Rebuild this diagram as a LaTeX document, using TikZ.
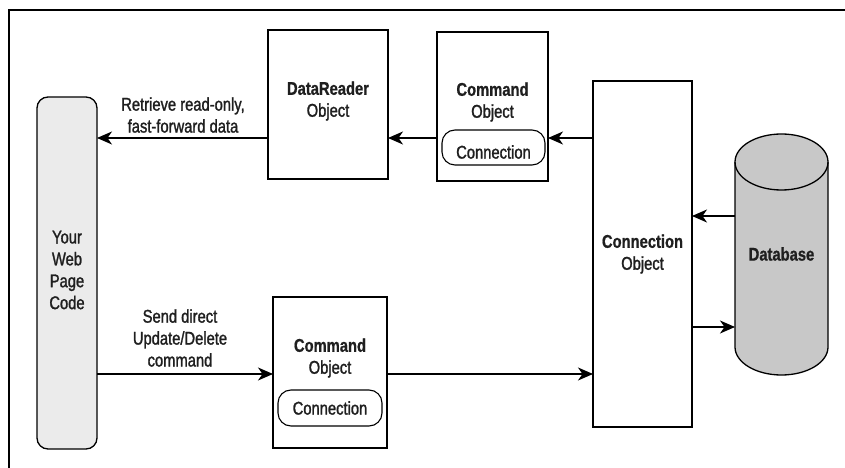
\documentclass[tikz,border=0pt]{standalone}
\usepackage{fontspec}
\setmainfont{Liberation Sans}[FakeStretch=0.8,FakeBold=1.4,BoldFeatures={FakeBold=0.8}]
\usetikzlibrary{arrows.meta,shapes.geometric}
\definecolor{codegray}{HTML}{EBEBEB}
\definecolor{dbgray}{HTML}{C8C8C8}
\tikzset{
  x=1bp,y=-1bp,
  box/.style={draw,line width=1.1bp,fill=white},
  pill/.style={draw,line width=1.1bp,rounded corners=13bp},
  lbl/.style={font=\fontsize{18.5}{22}\selectfont,align=center,inner sep=0pt,text=black!88},
  conn/.style={line width=1.3bp,-{Stealth[length=15bp,width=13bp,inset=4.5bp]}},
}
\begin{document}
\begin{tikzpicture}
\useasboundingbox (0,0) rectangle (845,468);
% frame
\draw[line width=1.6bp] (9,470) -- (9,10) -- (847,10);
% web page code
\draw[line width=1.3bp,fill=codegray,rounded corners=11bp] (37,97) rectangle (97,449);
\node[lbl] (web) at (67,270) {Your\\Web\\Page\\Code};
\coordinate (webtop) at (97,138);
\coordinate (webbot) at (97,374);
% DataReader
\draw[box] (268,30) rectangle (388,179);
\node[lbl] (dr) at (328,101) {\textbf{DataReader}\\Object};
\coordinate (drL) at (268,138);
\coordinate (drR) at (388,138);
% command top
\draw[box] (437,32) rectangle (548,181);
\node[lbl] (cmd1) at (492.5,102) {\textbf{Command}\\Object};
\draw[pill] (442,130) rectangle (545,165);
\node[lbl] (pc1) at (493.5,152) {Connection};
\coordinate (c1L) at (437,138);
\coordinate (c1R) at (548,138);
% command bottom
\draw[box] (273,297) rectangle (387,448);
\node[lbl] (cmd2) at (330,358) {\textbf{Command}\\Object};
\draw[pill] (278,390) rectangle (382,426);
\node[lbl] (pc2) at (330,408) {Connection};
\coordinate (c2L) at (273,374);
\coordinate (c2R) at (387,374);
% connection object
\draw[box] (593,81) rectangle (692,427);
\node[lbl] (co) at (642.5,254) {\textbf{Connection}\\Object};
\coordinate (coL1) at (593,138);
\coordinate (coL2) at (593,374);
\coordinate (coR1) at (692,216);
\coordinate (coR2) at (692,327);
% database
\draw[line width=1.3bp,fill=dbgray] (735,162) -- (735,347) arc[start angle=180,end angle=0,x radius=46.5,y radius=28] -- (828,162) arc[start angle=0,end angle=-180,x radius=46.5,y radius=28] -- cycle;
\draw[line width=1.3bp] (735,162) arc[start angle=180,end angle=0,x radius=46.5,y radius=28];
\node[lbl] (db) at (781.5,254) {\textbf{Database}};
\coordinate (dbL1) at (735,216);
\coordinate (dbL2) at (735,327);
% connectors
\draw[conn] (drL) -- (webtop);
\draw[conn] (c1L) -- (drR);
\draw[conn] (coL1) -- (c1R);
\draw[conn] (dbL1) -- (coR1);
\draw[conn] (coR2) -- (dbL2);
\draw[conn] (webbot) -- (c2L);
\draw[conn] (c2R) -- (coL2);
% labels
\node[lbl] (l1) at (183,115) {Retrieve read-only,\\fast-forward data};
\node[lbl] (l2) at (180,338) {Send direct\\Update/Delete\\command};
\end{tikzpicture}
\end{document}
